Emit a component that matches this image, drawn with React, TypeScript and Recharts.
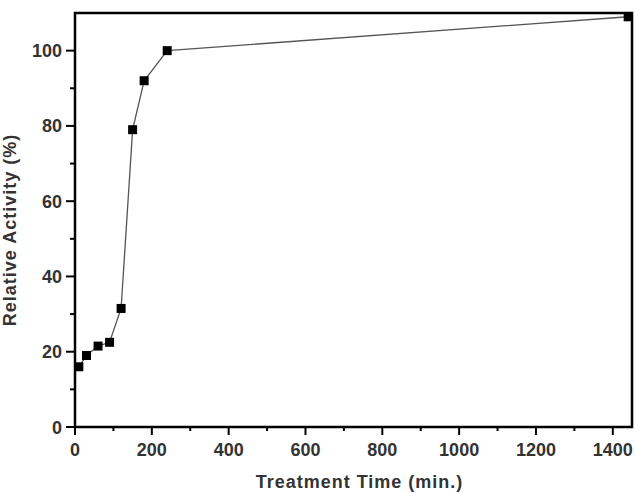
import React from 'react'
import { LineChart, Line, XAxis, YAxis, ReferenceArea, Label } from 'recharts'

const times = [10, 30, 60, 90, 120, 150, 180, 240, 1440]
const activity = [16, 19, 21.5, 22.5, 31.5, 79, 92, 100, 109]
const xTicks = [0, 100, 200, 300, 400, 500, 600, 700, 800, 900, 1000, 1100, 1200, 1300, 1400]
const yTicks = [0, 10, 20, 30, 40, 50, 60, 70, 80, 90, 100]

const data = times.map((t, i) => ({ time: t, value: activity[i] }))

const font = '"Liberation Sans", Arial, sans-serif'
const ink = '#333'

const XTick = (props: any) => {
  const { x, y, payload } = props
  const major = payload.value % 200 === 0
  return (
    <g>
      <line x1={x} x2={x} y1={y} y2={y + (major ? 8 : 4)} stroke="#000" strokeWidth={2} />
      {major && (
        <text x={x} y={y + 29} textAnchor="middle" fontFamily={font} fontWeight="bold" fontSize={18} fill={ink}>
          {payload.value}
        </text>
      )}
    </g>
  )
}

const YTick = (props: any) => {
  const { x, y, payload } = props
  const major = payload.value % 20 === 0
  return (
    <g>
      <line x1={x} x2={x - (major ? 9 : 5)} y1={y} y2={y} stroke="#000" strokeWidth={2} />
      {major && (
        <text x={x - 13} y={y + 6.5} textAnchor="end" fontFamily={font} fontWeight="bold" fontSize={18} fill={ink}>
          {payload.value}
        </text>
      )}
    </g>
  )
}

const Square = (props: any) => {
  const { cx, cy, index } = props
  return <rect key={index} x={cx - 4.5} y={cy - 4.5} width={9} height={9} fill="#000" />
}

export default function App() {
  return (
    <div style={{ position: 'absolute', left: 0, top: 0, background: '#fff' }}>
      <LineChart width={635} height={493} data={data} margin={{ top: 13, right: 3, left: 0, bottom: 0 }}>
        <XAxis
          dataKey="time"
          type="number"
          domain={[0, 1450]}
          ticks={xTicks}
          interval={0}
          tickSize={0}
          tickMargin={0}
          axisLine={false}
          tick={<XTick />}
          height={66}
        >
          <Label
            content={({ viewBox }: any) => (
              <text
                x={viewBox.x + viewBox.width / 2 + 6}
                y={viewBox.y + viewBox.height - 5}
                textAnchor="middle"
                fontFamily={font}
                fontWeight="bold"
                fontSize={18}
                letterSpacing={1}
                fill={ink}
              >
                Treatment Time (min.)
              </text>
            )}
          />
        </XAxis>
        <YAxis
          type="number"
          domain={[0, 110]}
          ticks={yTicks}
          interval={0}
          tickSize={0}
          tickMargin={0}
          axisLine={false}
          tick={<YTick />}
          width={75}
        >
          <Label
            content={({ viewBox }: any) => {
              const cx = viewBox.x + 16
              const cy = viewBox.y + viewBox.height / 2 + 10
              return (
                <text
                  x={cx}
                  y={cy}
                  transform={`rotate(-90, ${cx}, ${cy})`}
                  textAnchor="middle"
                  fontFamily={font}
                  fontWeight="bold"
                  fontSize={18}
                  letterSpacing={1}
                  fill={ink}
                >
                  Relative Activity (%)
                </text>
              )
            }}
          />
        </YAxis>
        <ReferenceArea x1={0} x2={1450} y1={0} y2={110} fill="none" stroke="#000" strokeWidth={2.5} />
        <Line
          dataKey="value"
          stroke="#555"
          strokeWidth={1.3}
          dot={<Square />}
          activeDot={false}
          isAnimationActive={false}
        />
      </LineChart>
    </div>
  )
}
